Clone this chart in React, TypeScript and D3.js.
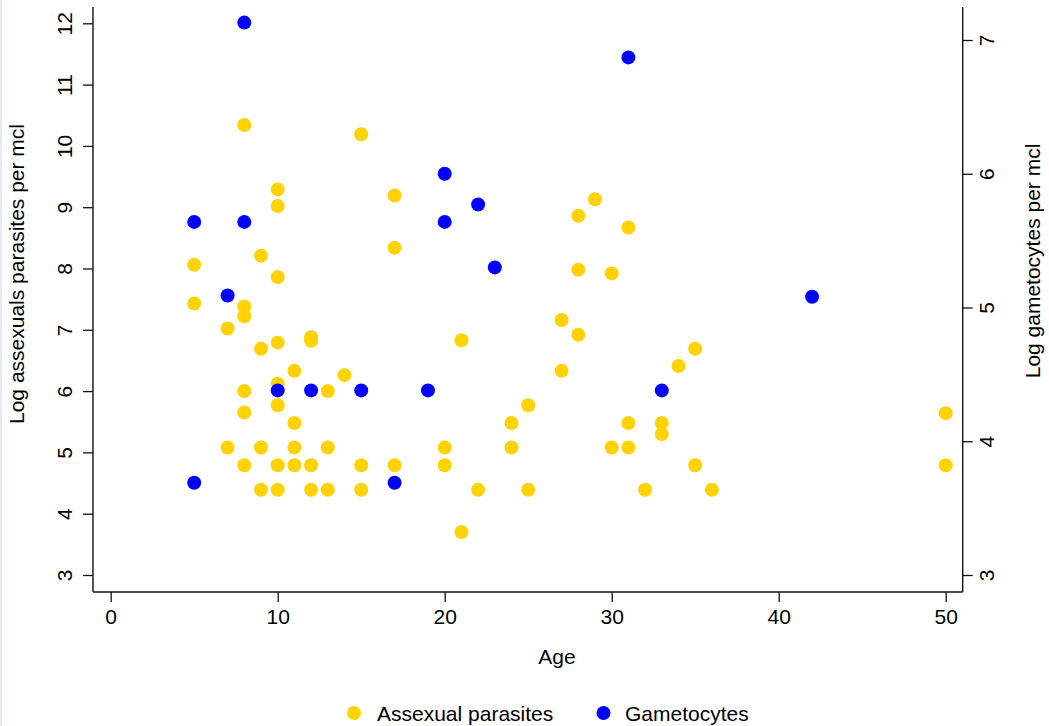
import React, { useEffect, useRef } from "react";
import * as d3 from "d3";

// asexual parasites (left axis)
const asexAge = [
  5, 5, 7, 7, 8, 8, 8, 8, 8, 8, 9, 9, 9, 9, 10, 10, 10, 10, 10, 10, 10, 10,
  11, 11, 11, 11, 12, 12, 12, 12, 13, 13, 13, 14, 15, 15, 15, 17, 17, 17, 20,
  20, 21, 21, 22, 24, 24, 25, 25, 27, 27, 28, 28, 28, 29, 30, 30, 31, 31, 31,
  32, 33, 33, 34, 35, 35, 36, 50, 50,
];
const asexLog = [
  8.06, 7.43, 7.02, 5.08, 10.34, 7.38, 7.22, 6.0, 5.65, 4.79, 8.21, 6.69, 5.08,
  4.39, 9.29, 9.02, 7.86, 6.79, 6.12, 5.77, 4.79, 4.39, 6.33, 5.48, 5.08, 4.79,
  6.88, 6.82, 4.79, 4.39, 6.0, 5.08, 4.39, 6.26, 10.19, 4.79, 4.39, 9.19, 8.34,
  4.79, 5.08, 4.79, 6.83, 3.7, 4.39, 5.48, 5.08, 5.77, 4.39, 7.16, 6.33, 8.86,
  7.98, 6.92, 9.13, 7.92, 5.08, 8.67, 5.48, 5.08, 4.39, 5.48, 5.3, 6.41, 6.69,
  4.79, 4.39, 5.64, 4.79,
];

// gametocytes (right axis)
const gamAge = [5, 5, 7, 8, 8, 10, 12, 15, 17, 19, 20, 20, 22, 23, 31, 33, 42];
const gamLog = [
  5.64, 3.69, 5.09, 7.13, 5.64, 4.38, 4.38, 4.38, 3.69, 4.38, 6.0, 5.64, 5.77,
  5.3, 6.87, 4.38, 5.08,
];

const xTicks = [0, 10, 20, 30, 40, 50];
const leftTicks = [3, 4, 5, 6, 7, 8, 9, 10, 11, 12];
const rightTicks = [3, 4, 5, 6, 7];

const W = 1049;
const H = 726;
const FONT = "'Liberation Sans', Arial, Helvetica, sans-serif";
const YELLOW = "#ffd200";
const BLUE = "#0000ff";

export default function App() {
  const svgRef = useRef<SVGSVGElement>(null);

  useEffect(() => {
    const plotL = 93;
    const plotR = 962.7;
    const plotT = 7;
    const plotB = 592;

    const x = d3.scaleLinear().domain([0, 50]).range([110.7, 945.7]);
    const yL = d3.scaleLinear().domain([3, 12]).range([575, 23.3]);
    const yR = d3.scaleLinear().domain([3, 7]).range([575, 40]);

    const svg = d3.select(svgRef.current);
    svg.selectAll("*").remove();

    svg
      .append("rect")
      .attr("width", W)
      .attr("height", H)
      .attr("fill", "#fff");
    svg
      .append("rect")
      .attr("width", 2)
      .attr("height", H)
      .attr("fill", "#e4e9f5");

    const axisStyle = (g: any) => {
      g.select(".domain").remove();
      g.selectAll("line").attr("stroke", "#111").attr("stroke-width", 1.3);
      g.selectAll("text")
        .style("font-family", FONT)
        .style("font-size", "21px")
        .attr("fill", "#000");
    };

    // left axis
    const gl = svg
      .append("g")
      .attr("transform", `translate(${plotL},0)`)
      .call(d3.axisLeft(yL).tickValues(leftTicks).tickSize(10).tickFormat(d3.format("d")));
    axisStyle(gl);
    gl.selectAll("text")
      .attr("x", null)
      .attr("dy", null)
      .attr("text-anchor", "middle")
      .attr("transform", "translate(-21.3,0) rotate(-90)");

    // right axis
    const gr = svg
      .append("g")
      .attr("transform", `translate(${plotR},0)`)
      .call(d3.axisRight(yR).tickValues(rightTicks).tickSize(10).tickFormat(d3.format("d")));
    axisStyle(gr);
    gr.selectAll("text")
      .attr("x", null)
      .attr("dy", null)
      .attr("text-anchor", "middle")
      .attr("transform", "translate(31.3,0) rotate(-90)");

    // bottom axis
    const gb = svg
      .append("g")
      .attr("transform", `translate(0,${plotB})`)
      .call(d3.axisBottom(x).tickValues(xTicks).tickSize(10).tickFormat(d3.format("d")));
    axisStyle(gb);
    gb.selectAll("text").attr("dy", null).attr("y", 32);

    const frame = svg.append("g").attr("stroke", "#111").attr("stroke-width", 1.4);
    frame.append("line").attr("x1", plotL).attr("x2", plotL).attr("y1", plotT).attr("y2", plotB);
    frame.append("line").attr("x1", plotR).attr("x2", plotR).attr("y1", plotT).attr("y2", plotB);
    frame.append("line").attr("x1", plotL).attr("x2", plotR).attr("y1", plotB).attr("y2", plotB);

    // points
    svg
      .append("g")
      .selectAll("circle")
      .data(asexAge)
      .join("circle")
      .attr("cx", (d) => x(d))
      .attr("cy", (d, i) => yL(asexLog[i]))
      .attr("r", 7)
      .attr("fill", YELLOW);

    svg
      .append("g")
      .selectAll("circle")
      .data(gamAge)
      .join("circle")
      .attr("cx", (d) => x(d))
      .attr("cy", (d, i) => yR(gamLog[i]))
      .attr("r", 7)
      .attr("fill", BLUE);

    // titles
    const txt = (s: string) =>
      svg
        .append("text")
        .text(s)
        .style("font-family", FONT)
        .style("font-size", "21px")
        .attr("fill", "#000");

    txt("Age").attr("x", 557).attr("y", 664).attr("text-anchor", "middle");
    txt("Log assexuals parasites per mcl")
      .attr("text-anchor", "middle")
      .attr("transform", "translate(24,274) rotate(-90)");
    txt("Log gametocytes per mcl")
      .attr("text-anchor", "middle")
      .attr("transform", "translate(1040,261) rotate(-90)");

    // legend
    const legend = [
      { label: "Assexual parasites", color: YELLOW, mx: 354, tx: 377 },
      { label: "Gametocytes", color: BLUE, mx: 603.5, tx: 625 },
    ];
    legend.forEach((l) => {
      svg.append("circle").attr("cx", l.mx).attr("cy", 713).attr("r", 7).attr("fill", l.color);
      txt(l.label).attr("x", l.tx).attr("y", 720.5);
    });
  }, []);

  return (
    <div style={{ position: "absolute", left: 0, top: 0 }}>
      <svg ref={svgRef} width={W} height={H} style={{ display: "block" }} />
    </div>
  );
}
